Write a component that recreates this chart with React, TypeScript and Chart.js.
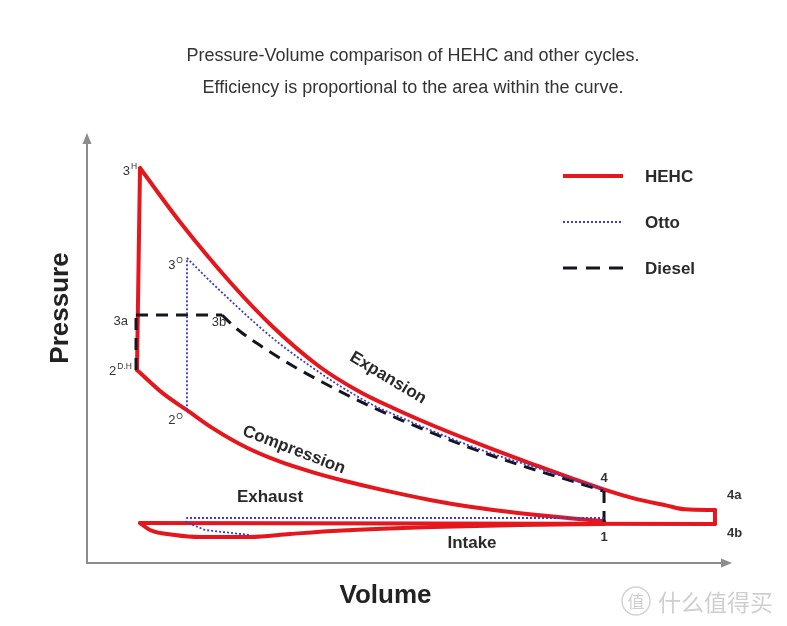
import React, { useEffect, useRef } from 'react';
import { Chart, registerables } from 'chart.js';

Chart.register(...registerables);

// ---- Data (Volume 0-100, Pressure 0-100, arbitrary units) ----
const hehcCombustionV = [7.75, 8.22];
const hehcCombustionP = [44.88, 91.86];

const hehcExpansionV = [8.22, 14.42, 22.17, 28.84, 36.12, 42.33, 47.44, 52.71, 57.83, 62.95, 69.77, 74.88, 80.0, 84.65, 89.92, 92.71, 97.36];
const hehcExpansionP = [91.86, 79.3, 65.35, 54.88, 45.58, 39.77, 36.05, 32.56, 29.42, 26.42, 22.63, 19.86, 17.19, 15.09, 13.35, 12.49, 12.33];

const hehcBlowdownV = [97.36, 97.36];
const hehcBlowdownP = [12.33, 9.07];

const hehcExhaustV = [97.36, 8.22];
const hehcExhaustP = [9.07, 9.3];

const hehcIntakeV = [8.22, 9.77, 13.64, 17.52, 25.27, 31.47, 38.14, 53.64, 67.13, 80.16];
const hehcIntakeP = [9.3, 7.67, 6.51, 6.05, 6.05, 6.74, 7.44, 8.37, 8.84, 9.07];

const hehcCompressionV = [7.75, 11.78, 15.5, 19.53, 24.81, 29.92, 35.04, 40.31, 45.43, 53.18, 59.38, 67.13, 74.88, 80.16];
const hehcCompressionP = [44.88, 39.44, 35.53, 31.3, 26.79, 23.56, 21.09, 18.95, 17.12, 14.67, 13.09, 11.58, 10.42, 9.7];

const ottoCombustionV = [15.5, 15.5];
const ottoCombustionP = [35.53, 70.93];

const ottoExpansionV = [15.5, 19.07, 22.17, 26.05, 29.92, 35.04, 39.22, 44.34, 48.53, 53.18, 57.83, 62.95, 67.6, 71.78, 75.66, 80.0];
const ottoExpansionP = [70.93, 65.58, 61.16, 55.81, 50.93, 45.35, 41.16, 36.74, 33.95, 30.93, 28.14, 25.35, 23.14, 21.16, 19.19, 17.21];

const ottoGasExchangeV = [80.16, 15.5, 15.35, 18.29, 25.27];
const ottoGasExchangeP = [10.47, 10.47, 9.53, 7.67, 6.51];

const dieselRiseV = [7.6, 7.6];
const dieselRiseP = [44.88, 57.67];

const dieselConstPV = [7.6, 20.93];
const dieselConstPP = [57.67, 57.67];

const dieselExpansionV = [20.93, 23.26, 27.91, 31.94, 36.59, 40.31, 44.34, 48.53, 53.18, 57.83, 62.95, 67.6, 71.78, 75.66, 80.0];
const dieselExpansionP = [57.67, 54.42, 49.53, 45.81, 41.98, 39.07, 36.16, 33.37, 30.47, 27.67, 24.88, 22.56, 20.58, 18.84, 16.74];

const dieselBlowdownV = [80.16, 80.16];
const dieselBlowdownP = [16.74, 9.53];

const seriesNames = ['HEHC', 'Otto', 'Diesel'];

const titleLines = [
  'Pressure-Volume comparison of HEHC and other cycles.',
  'Efficiency is proportional to the area within the curve.',
];
const xAxisTitle = 'Volume';
const yAxisTitle = 'Pressure';

// point labels: text, superscript, anchor (v,p)
const pointLabels = [
  { t: '3', s: 'H', v: 8.22, p: 91.86 },
  { t: '3', s: 'O', v: 15.5, p: 70.93 },
  { t: '3a', s: '', v: 7.6, p: 57.67 },
  { t: '3b', s: '', v: 20.93, p: 57.67 },
  { t: '2', s: 'D.H', v: 7.75, p: 44.88 },
  { t: '2', s: 'O', v: 15.5, p: 35.53 },
  { t: '4', s: '', v: 80.16, p: 16.98 },
  { t: '1', s: '', v: 80.16, p: 9.07 },
  { t: '4a', s: '', v: 97.36, p: 12.33 },
  { t: '4b', s: '', v: 97.36, p: 9.07 },
];
// label placement offsets (px) & alignment, same order as pointLabels
const pointLabelLayout = [
  { dx: -3, dy: 3, align: 'right', bold: false },
  { dx: -4, dy: 7, align: 'right', bold: false },
  { dx: -8, dy: 6, align: 'right', bold: false },
  { dx: -3, dy: 7, align: 'center', bold: false },
  { dx: -5, dy: 1, align: 'right', bold: false },
  { dx: -4, dy: 10, align: 'right', bold: false },
  { dx: 0, dy: -12, align: 'center', bold: true },
  { dx: 0, dy: 13, align: 'center', bold: true },
  { dx: 12, dy: -15, align: 'left', bold: true },
  { dx: 12, dy: 9, align: 'left', bold: true },
];

const strokeLabels = [
  { t: 'Expansion', v: 46.67, p: 43.02, angle: 31 },
  { t: 'Compression', v: 32.09, p: 26.28, angle: 21 },
  { t: 'Exhaust', v: 28.37, p: 15.35, angle: 0 },
  { t: 'Intake', v: 59.69, p: 4.65, angle: 0 },
];

const RED = '#e5171d';
const BLUE = '#3b3bd0';
const BLACK = '#15151f';
const TEXT = '#333333';
const FONT = "'Liberation Sans', Arial, sans-serif";

const zip = (v: number[], p: number[]) => v.map((x, i) => ({ x, y: p[i] }));

const base = { pointRadius: 0, pointHoverRadius: 0, fill: false, clip: false as any, borderCapStyle: 'round' as const, borderJoinStyle: 'round' as const };
const redDs = (v: number[], p: number[], smooth: boolean) => ({
  ...base, data: zip(v, p), borderColor: RED, borderWidth: 4, order: 3,
  cubicInterpolationMode: smooth ? 'monotone' : 'default', tension: 0,
});
const blueDs = (v: number[], p: number[], smooth: boolean) => ({
  ...base, data: zip(v, p), borderColor: BLUE, borderWidth: 1.8, borderDash: [2, 2], borderCapStyle: 'butt' as const, order: 1,
  cubicInterpolationMode: smooth ? 'monotone' : 'default', tension: 0,
});
const blackDs = (v: number[], p: number[], smooth: boolean) => ({
  ...base, data: zip(v, p), borderColor: BLACK, borderWidth: 3, borderDash: [12, 8], borderCapStyle: 'butt' as const, order: 2,
  cubicInterpolationMode: smooth ? 'monotone' : 'default', tension: 0,
});

const decorPlugin = {
  id: 'decor',
  beforeDatasetsDraw(chart: any) {
    const { ctx, scales } = chart;
    const x0 = scales.x.getPixelForValue(0);
    const x1 = scales.x.getPixelForValue(100);
    const y0 = scales.y.getPixelForValue(0);
    const y1 = scales.y.getPixelForValue(100);
    ctx.save();
    ctx.strokeStyle = '#8d8d8d';
    ctx.fillStyle = '#8d8d8d';
    ctx.lineWidth = 2;
    ctx.beginPath();
    ctx.moveTo(x0, y1 + 8);
    ctx.lineTo(x0, y0);
    ctx.lineTo(x1 - 8, y0);
    ctx.stroke();
    ctx.beginPath();
    ctx.moveTo(x0, y1);
    ctx.lineTo(x0 - 4.5, y1 + 11);
    ctx.lineTo(x0 + 4.5, y1 + 11);
    ctx.closePath();
    ctx.fill();
    ctx.beginPath();
    ctx.moveTo(x1, y0);
    ctx.lineTo(x1 - 11, y0 - 4.5);
    ctx.lineTo(x1 - 11, y0 + 4.5);
    ctx.closePath();
    ctx.fill();
    ctx.restore();
  },
  afterDatasetsDraw(chart: any) {
    const { ctx, scales, chartArea } = chart;
    ctx.save();
    ctx.textBaseline = 'middle';

    // titles
    ctx.fillStyle = TEXT;
    ctx.font = `18px ${FONT}`;
    ctx.textAlign = 'center';
    ctx.fillText(titleLines[0], 413, 56);
    ctx.fillText(titleLines[1], 413, 88);

    // axis titles
    ctx.font = `bold 26px ${FONT}`;
    ctx.fillStyle = '#222';
    ctx.fillText(xAxisTitle, (chartArea.left + chartArea.right) / 2 - 24, 596);
    ctx.save();
    ctx.translate(61, (chartArea.top + chartArea.bottom) / 2 - 40);
    ctx.rotate(-Math.PI / 2);
    ctx.fillText(yAxisTitle, 0, 0);
    ctx.restore();

    // point labels
    pointLabels.forEach((l, i) => {
      const lay = pointLabelLayout[i];
      const px = scales.x.getPixelForValue(l.v) + lay.dx;
      const py = scales.y.getPixelForValue(l.p) + lay.dy;
      const mainFont = `${lay.bold ? 'bold ' : ''}13px ${FONT}`;
      const supFont = `8.5px ${FONT}`;
      ctx.font = mainFont;
      const wm = ctx.measureText(l.t).width;
      ctx.font = supFont;
      const ws = l.s ? ctx.measureText(l.s).width + 1 : 0;
      const total = wm + ws;
      let start = px;
      if (lay.align === 'right') start = px - total;
      else if (lay.align === 'center') start = px - total / 2;
      ctx.textAlign = 'left';
      ctx.fillStyle = TEXT;
      ctx.font = mainFont;
      ctx.fillText(l.t, start, py);
      if (l.s) {
        ctx.font = supFont;
        ctx.fillText(l.s, start + wm + 1, py - 4);
      }
    });

    // stroke labels
    ctx.font = `bold 17px ${FONT}`;
    ctx.fillStyle = '#2a2a2a';
    ctx.textAlign = 'center';
    strokeLabels.forEach((l) => {
      const px = scales.x.getPixelForValue(l.v);
      const py = scales.y.getPixelForValue(l.p);
      ctx.save();
      ctx.translate(px, py);
      ctx.rotate((l.angle * Math.PI) / 180);
      ctx.fillText(l.t, 0, 0);
      ctx.restore();
    });

    // legend
    const lx0 = chartArea.right - 169;
    const lx1 = lx0 + 60;
    const ly = [176, 222, 268];
    const styles = [
      { c: RED, w: 4, d: [] as number[] },
      { c: BLUE, w: 1.8, d: [2, 2] },
      { c: BLACK, w: 3, d: [14, 9] },
    ];
    seriesNames.forEach((n, i) => {
      const s = styles[i];
      ctx.save();
      ctx.strokeStyle = s.c;
      ctx.lineWidth = s.w;
      ctx.setLineDash(s.d);
      ctx.beginPath();
      ctx.moveTo(lx0, ly[i]);
      ctx.lineTo(lx1, ly[i]);
      ctx.stroke();
      ctx.restore();
      ctx.font = `bold 17px ${FONT}`;
      ctx.fillStyle = '#2a2a2a';
      ctx.textAlign = 'left';
      ctx.fillText(n, lx1 + 22, ly[i] + 1);
    });

    // watermark
    ctx.strokeStyle = '#d4d4d4';
    ctx.fillStyle = '#cfcfcf';
    ctx.lineWidth = 1.5;
    ctx.beginPath();
    ctx.arc(636, 601, 14, 0, Math.PI * 2);
    ctx.stroke();
    ctx.font = `17px 'Noto Sans CJK SC', sans-serif`;
    ctx.textAlign = 'center';
    ctx.fillText('值', 636, 602);
    ctx.font = `23px 'Noto Sans CJK SC', sans-serif`;
    ctx.textAlign = 'left';
    ctx.fillText('什么值得买', 658, 602);

    ctx.restore();
  },
};

export default function App() {
  const ref = useRef<HTMLCanvasElement | null>(null);
  useEffect(() => {
    document.body.style.margin = '0';
    const canvas = ref.current;
    if (!canvas) return;
    const chart = new Chart(canvas, {
      type: 'line',
      data: {
        datasets: [
          redDs(hehcCombustionV, hehcCombustionP, false),
          redDs(hehcExpansionV, hehcExpansionP, true),
          redDs(hehcBlowdownV, hehcBlowdownP, false),
          redDs(hehcExhaustV, hehcExhaustP, false),
          redDs(hehcIntakeV, hehcIntakeP, true),
          redDs(hehcCompressionV, hehcCompressionP, true),
          blueDs(ottoCombustionV, ottoCombustionP, false),
          blueDs(ottoExpansionV, ottoExpansionP, true),
          blueDs(ottoGasExchangeV, ottoGasExchangeP, false),
          blackDs(dieselRiseV, dieselRiseP, false),
          blackDs(dieselConstPV, dieselConstPP, false),
          blackDs(dieselExpansionV, dieselExpansionP, true),
          blackDs(dieselBlowdownV, dieselBlowdownP, false),
        ] as any,
      },
      options: {
        animation: false,
        responsive: false,
        devicePixelRatio: 1,
        layout: { padding: { left: 87, right: 55, top: 133, bottom: 63 } },
        plugins: { legend: { display: false }, title: { display: false }, tooltip: { enabled: false } },
        events: [],
        scales: {
          x: { type: 'linear', min: 0, max: 100, display: false },
          y: { type: 'linear', min: 0, max: 100, display: false },
        },
      } as any,
      plugins: [decorPlugin],
    });
    return () => chart.destroy();
  }, []);
  return (
    <div style={{ width: 787, height: 626, background: '#fff' }}>
      <canvas ref={ref} width={787} height={626} style={{ display: 'block' }} />
    </div>
  );
}
